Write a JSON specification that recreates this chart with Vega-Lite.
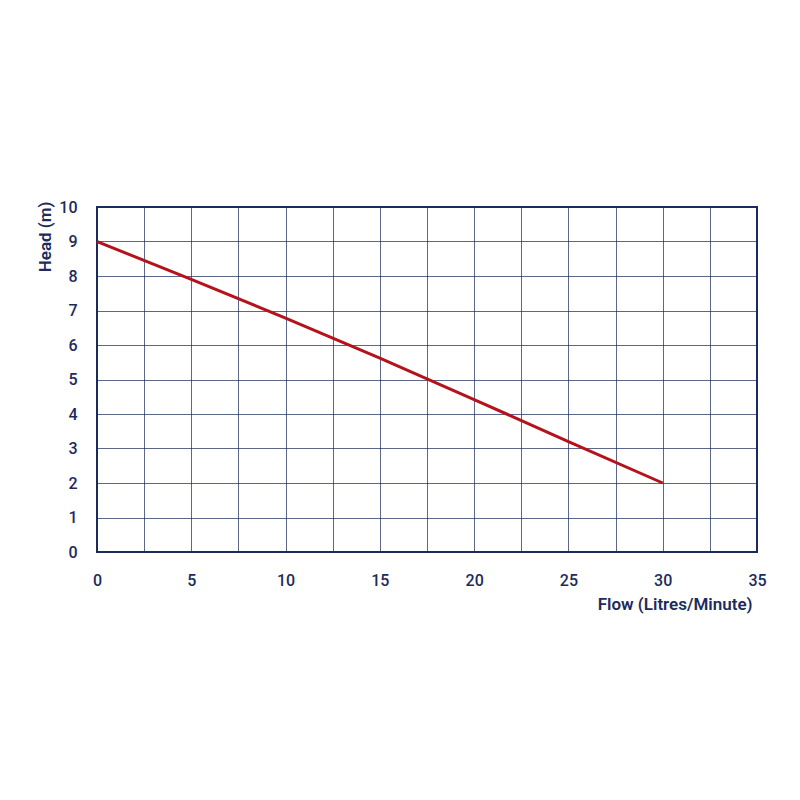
{
  "$schema": "https://vega.github.io/schema/vega-lite/v6.json",
  "description": "Pump curve: head vs flow",
  "autosize": "none",
  "padding": {"left": 97, "top": 207, "right": 43, "bottom": 248},
  "width": 660,
  "height": 345,
  "background": "#ffffff",
  "config": {
    "font": "Roboto",
    "view": {"stroke": "#1d2b5c", "strokeWidth": 2},
    "axis": {
      "gridColor": "#1d2b5c",
      "gridOpacity": 0.9,
      "gridWidth": 0.8,
      "domain": false,
      "ticks": false,
      "labelFlush": false,
      "labelColor": "#1d2b5c",
      "labelFont": "Roboto",
      "labelFontSize": 16,
      "labelFontWeight": 500,
      "titleColor": "#1d2b5c",
      "titleFont": "Roboto",
      "titleFontSize": 17,
      "titleFontWeight": 600
    }
  },
  "data": {
    "values": [
      {"flow": 0, "head": 9},
      {"flow": 5, "head": 7.9},
      {"flow": 10, "head": 6.78},
      {"flow": 15, "head": 5.62},
      {"flow": 20, "head": 4.42},
      {"flow": 25, "head": 3.2},
      {"flow": 30, "head": 2}
    ]
  },
  "mark": {"type": "line", "color": "#b5121b", "strokeWidth": 3, "interpolate": "monotone"},
  "encoding": {
    "x": {
      "field": "flow",
      "type": "quantitative",
      "scale": {"domain": [0, 35], "nice": false},
      "axis": {
        "values": [0, 2.5, 5, 7.5, 10, 12.5, 15, 17.5, 20, 22.5, 25, 27.5, 30, 32.5, 35],
        "labelExpr": "datum.value % 5 === 0 ? datum.label : ''",
        "labelPadding": 20,
        "title": "Flow (Litres/Minute)",
        "titleAnchor": "end",
        "titleAlign": "right",
        "titleBaseline": "top",
        "titleX": 655,
        "titleY": 44
      }
    },
    "y": {
      "field": "head",
      "type": "quantitative",
      "scale": {"domain": [0, 10], "nice": false},
      "axis": {
        "values": [0, 1, 2, 3, 4, 5, 6, 7, 8, 9, 10],
        "labelPadding": 20,
        "title": "Head (m)",
        "titleAngle": -90,
        "titleAlign": "right",
        "titleBaseline": "middle",
        "titleX": -52,
        "titleY": -6
      }
    }
  }
}
